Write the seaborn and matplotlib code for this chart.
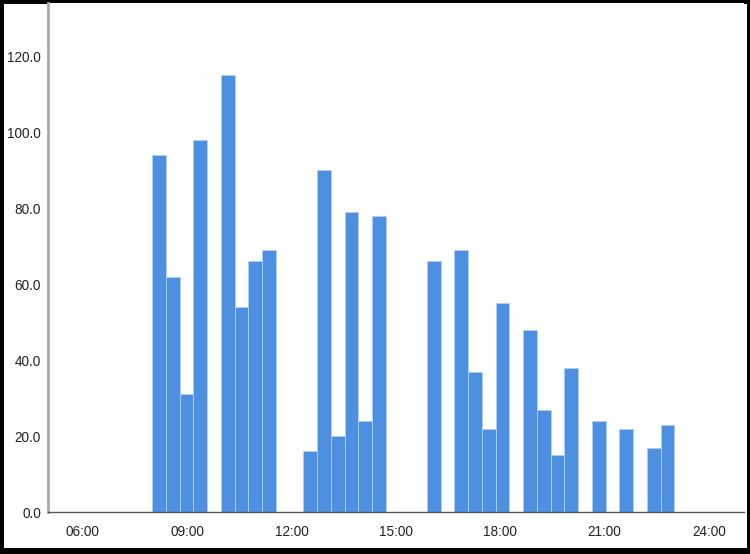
import matplotlib
matplotlib.use('Agg')
import matplotlib.pyplot as plt
import seaborn as sns
import numpy as np
import pandas as pd
from matplotlib.patches import Rectangle

# time histogram, 38 equal bins between 08:00 and 23:00
bin_start = 8.0
bin_end = 23.0
counts = [94, 62, 31, 98, 0, 115, 54, 66, 69, 0,
          0, 16, 90, 20, 79, 24, 78, 0, 0, 0,
          66, 0, 69, 37, 22, 55, 0, 48, 27, 15,
          38, 0, 24, 0, 22, 0, 17, 23]

x_ticks = [6, 9, 12, 15, 18, 21, 24]
x_ticklabels = ['06:00', '09:00', '12:00', '15:00', '18:00', '21:00', '24:00']
y_ticks = [0, 20, 40, 60, 80, 100, 120]

edges = np.linspace(bin_start, bin_end, len(counts) + 1)
df = pd.DataFrame({'hour': (edges[:-1] + edges[1:]) / 2, 'n': counts})

sns.set_style('white')
plt.rcParams['font.family'] = ['Liberation Sans', 'DejaVu Sans']

fig = plt.figure(figsize=(7.5, 5.54), dpi=100)
ax = fig.add_axes([0.0636, 0.0753, 0.9284, 0.9197])

sns.histplot(data=df, x='hour', weights='n', bins=len(counts),
             binrange=(bin_start, bin_end), ax=ax,
             color='#4d8fe0', alpha=1, edgecolor='#b3cff2', linewidth=0.6)

ax.set_xlim(5, 25)
ax.set_ylim(0, 134)
ax.set_xticks(x_ticks)
ax.set_xticklabels(x_ticklabels)
ax.set_yticks(y_ticks)
ax.set_yticklabels([f'{v:.1f}' for v in y_ticks])
ax.tick_params(axis='both', length=0, labelsize=9.8, colors='#222222')
ax.tick_params(axis='x', pad=9)
ax.tick_params(axis='y', pad=5)
ax.set_xlabel('')
ax.set_ylabel('')

sns.despine(ax=ax)
ax.spines['left'].set_color('#a8a8a8')
ax.spines['left'].set_linewidth(2)
ax.spines['bottom'].set_color('#555555')
ax.spines['bottom'].set_linewidth(1)

# dark frame round the picture, a bit heavier at the bottom
fig.patch.set_edgecolor('black')
fig.patch.set_linewidth(5)
fig.patches.append(Rectangle((0, 0), 1, 0.011, transform=fig.transFigure,
                             facecolor='black', edgecolor='none'))

fig.savefig('out.png', dpi=100, edgecolor=fig.get_edgecolor())
